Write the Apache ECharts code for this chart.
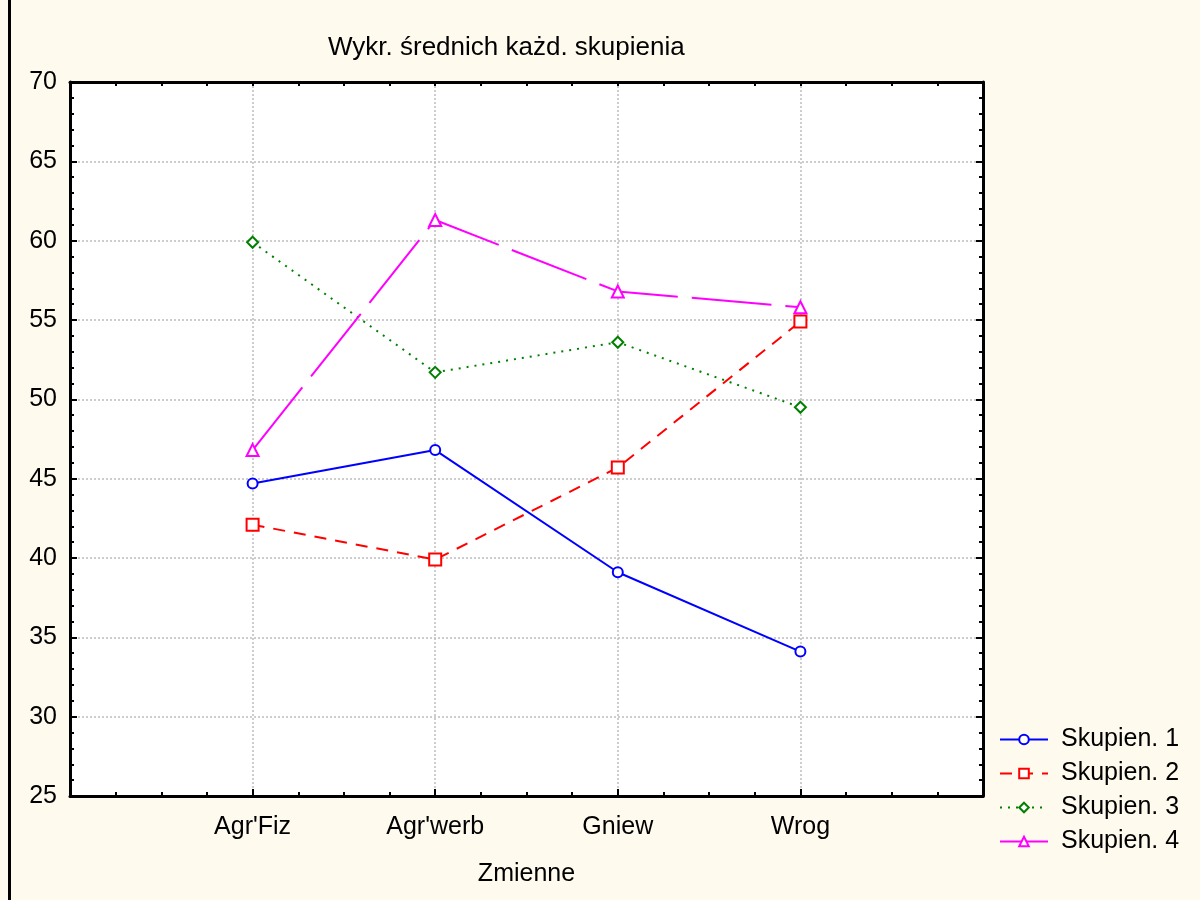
<!DOCTYPE html>
<html>
<head>
<meta charset="utf-8">
<script src="https://cdn.jsdelivr.net/npm/echarts@6/dist/echarts.min.js"></script>
<style>
html,body{margin:0;padding:0;background:#fffaee;}
#c{width:1200px;height:900px;}
</style>
</head>
<body>
<div id="c"></div>
<script>
const categories = ["Agr'Fiz", "Agr'werb", "Gniew", "Wrog"];
const seriesNames = ["Skupien. 1", "Skupien. 2", "Skupien. 3", "Skupien. 4"];
const skupien1 = [44.7, 46.8, 39.1, 34.1];
const skupien2 = [42.1, 39.9, 45.7, 54.9];
const skupien3 = [59.9, 51.7, 53.6, 49.5];
const skupien4 = [46.8, 61.3, 56.8, 55.8];
const yTicks = [25, 30, 35, 40, 45, 50, 55, 60, 65, 70];

const FONT = "'Liberation Sans', Arial, sans-serif";
const FS = 25;
const chart = echarts.init(document.getElementById('c'), null, {renderer: 'canvas'});

function toPts(vals) { return vals.map((v, i) => [i + 1, v]); }

const axisLineStyle = {show: true, onZero: false, lineStyle: {color: '#000', width: 3}};
const gridLine = {show: true, lineStyle: {color: '#bdbdbd', width: 1.5, type: [2, 2]}};

function xAx(pos, main) {
  return {
    type: 'value', position: pos, min: 0, max: 5, interval: 1,
    axisLine: axisLineStyle,
    axisTick: {show: true, inside: true, length: main ? 7 : 4, lineStyle: {color: '#000', width: 2}},
    minorTick: {show: true, splitNumber: 4, length: 4, lineStyle: {color: '#000', width: 2}},
    splitLine: main ? gridLine : {show: false},
    minorSplitLine: {show: false},
    axisLabel: main ? {
      show: true, margin: 19, color: '#000', fontFamily: FONT, fontSize: FS,
      formatter: v => categories[v - 1] || ''
    } : {show: false},
    name: main ? 'Zmienne' : '', nameLocation: 'middle', nameGap: 66,
    nameTextStyle: {color: '#000', fontFamily: FONT, fontSize: FS}
  };
}
function yAx(pos, main) {
  return {
    type: 'value', position: pos, min: yTicks[0], max: yTicks[yTicks.length - 1], interval: 5,
    axisLine: axisLineStyle,
    axisTick: {show: true, inside: true, length: 7, lineStyle: {color: '#000', width: 2}},
    minorTick: {show: true, splitNumber: 5, length: 4, lineStyle: {color: '#000', width: 2}},
    splitLine: main ? gridLine : {show: false},
    axisLabel: main ? {show: true, margin: 13, color: '#000', fontFamily: FONT, fontSize: FS} : {show: false}
  };
}

const styles = [
  {color: '#0000ff', type: 'solid', symbol: 'emptyCircle', size: 10},
  {color: '#ff0000', type: [12, 9], symbol: 'emptyRect', size: 12},
  {color: '#008000', type: [2, 6], symbol: 'emptyDiamond', size: 11},
  {color: '#ff00ff', type: [80, 14], symbol: 'emptyTriangle', size: 12}
];
const dataSets = [skupien1, skupien2, skupien3, skupien4];

const option = {
  backgroundColor: '#fffaee',
  animation: false,
  title: {
    text: 'Wykr. średnich każd. skupienia', left: 323, top: 30,
    textStyle: {color: '#000', fontFamily: FONT, fontSize: 26, fontWeight: 'normal'}
  },
  grid: {left: 70, top: 82, width: 913, height: 714, show: true, backgroundColor: '#ffffff', borderWidth: 0},
  xAxis: [xAx('bottom', true), xAx('top', false)],
  yAxis: [yAx('left', true), yAx('right', false)],
  legend: {
    orient: 'vertical', left: 994, top: 722, itemWidth: 48, itemHeight: 12, itemGap: 9,
    data: seriesNames,
    textStyle: {color: '#000', fontFamily: FONT, fontSize: FS, padding: [0, 0, 0, 8]}
  },
  series: dataSets.map((d, i) => ({
    name: seriesNames[i], type: 'line', xAxisIndex: 0, yAxisIndex: 0,
    data: toPts(d),
    symbol: styles[i].symbol, symbolSize: styles[i].size, showSymbol: true,
    lineStyle: {color: styles[i].color, width: 2, type: styles[i].type},
    itemStyle: {color: styles[i].color, borderWidth: 2},
    z: 3
  })),
  graphic: [{type: 'rect', left: 8, top: 0, shape: {width: 3, height: 900}, style: {fill: '#000'}}]
};
chart.setOption(option);
</script>
</body>
</html>
